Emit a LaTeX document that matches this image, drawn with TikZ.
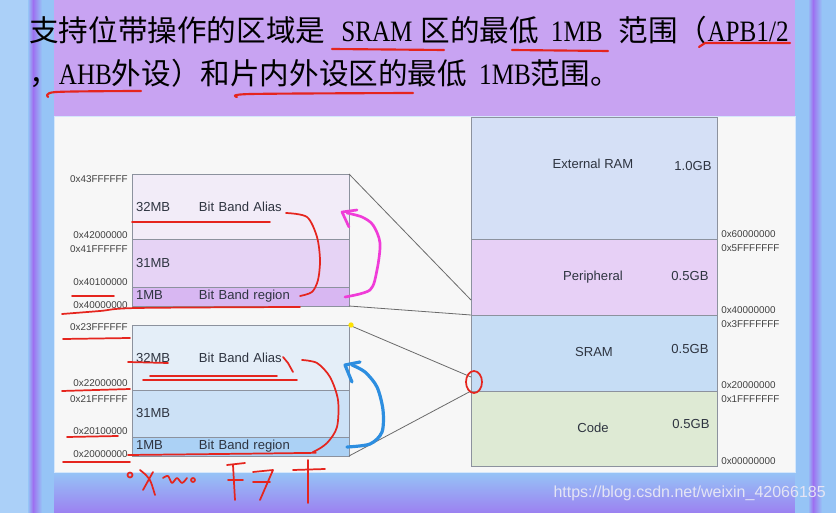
\documentclass[tikz,border=0pt]{standalone}
\usepackage{fontspec}
\setmainfont{Liberation Sans}
\newfontfamily\cjkfont{Noto Sans CJK SC}
\newfontfamily\latfont{Liberation Serif}[FakeStretch=0.85]
\usetikzlibrary{positioning}

\definecolor{bglav}{HTML}{C8A3F2}
\definecolor{bgblue}{HTML}{96C4F6}
\definecolor{bgpurple}{HTML}{9D70F0}
\definecolor{panelbg}{HTML}{F7F7F7}
\definecolor{hiA}{HTML}{F2ECF8}
\definecolor{hiB}{HTML}{E6D3F5}
\definecolor{hiC}{HTML}{D8B7F2}
\definecolor{loA}{HTML}{E4EEF8}
\definecolor{loB}{HTML}{CCE1F6}
\definecolor{loC}{HTML}{ABD1F5}
\definecolor{extC}{HTML}{D5E0F6}
\definecolor{periC}{HTML}{E7D0F6}
\definecolor{sramC}{HTML}{C6DDF5}
\definecolor{codeC}{HTML}{DEEAD4}
\definecolor{boxline}{HTML}{8C929E}
\definecolor{linkgray}{HTML}{6A6A6A}
\definecolor{addrtext}{HTML}{404040}
\definecolor{lbltext}{HTML}{2E3440}
\definecolor{redpen}{HTML}{E5251E}
\definecolor{pinkpen}{HTML}{F03CD8}
\definecolor{bluepen}{HTML}{2D8EE0}
\definecolor{wmark}{HTML}{E4E4F4}
\newcommand{\mbsz}[1]{\makebox[47.25pt][l]{#1}}

\begin{document}
\begin{tikzpicture}[x=0.75pt,y=-0.75pt,
  mem/.style={draw=boxline, line width=0.7pt, inner sep=0pt, outer sep=0pt},
  lft/.style={mem, minimum width=162.75pt, text width=156.75pt, align=left, text=lbltext, font=\fontsize{9.8}{11}\selectfont},
  rgt/.style={mem, minimum width=184.5pt},
  rlbl/.style={text=lbltext, inner sep=0pt, font=\fontsize{9.8}{11}\selectfont},
  addr/.style={text=addrtext, inner sep=0pt, font=\fontsize{7.4}{8}\selectfont},
  zoomln/.style={draw=linkgray, line width=0.6pt},
  hand/.style={line width=1.6pt, line cap=round, line join=round}]
\useasboundingbox (0,0) rectangle (836,513);
% background of the screenshot
\fill[bglav] (0,0) rectangle (836,513);
\shade[top color=bgblue, bottom color=bgpurple!80!bgblue] (0,472) rectangle (836,513);
\fill[bgblue!80!white] (0,0) rectangle (28,513);
\shade[left color=bgblue, right color=bgpurple] (28,0) rectangle (33,513);
\shade[left color=bgpurple, right color=bgblue] (33,0) rectangle (42,513);
\fill[bgblue] (42,0) rectangle (54,513);
\fill[bgblue] (795,0) rectangle (808,513);
\shade[left color=bgblue, right color=bgpurple] (808,0) rectangle (813,513);
\shade[left color=bgpurple, right color=bgblue] (813,0) rectangle (822,513);
\fill[bgblue] (822,0) rectangle (836,513);
\filldraw[fill=panelbg, draw=bgblue!40!white, line width=0.5pt] (54,116) rectangle (795,472);

% title
\node[anchor=west, inner sep=0pt, font=\fontsize{22.2}{24}\cjkfont] (title1) at (29,30)
  {支持位带操作的区域是\hspace{12pt}{\latfont SRAM}\hspace{6pt}区的最低\hspace{9pt}{\latfont 1MB}\hspace{12pt}范围（{\latfont APB1/2}};
\node[anchor=west, inner sep=0pt, font=\fontsize{22.2}{24}\cjkfont] (title2) at (29,73)
  {，{\latfont AHB}外设）和片内外设区的最低\hspace{9pt}{\latfont 1MB}范围。};

% bit band region of the peripherals
\node[lft, fill=hiA, minimum height=48.75pt] (hiAlias) at (240.5,206.5) {\mbsz{32MB}Bit Band Alias};
\node[lft, fill=hiB, minimum height=36pt, below=0pt of hiAlias] (hi31) {\mbsz{31MB}};
\node[lft, fill=hiC, minimum height=14.25pt, below=0pt of hi31] (hi1) {\mbsz{1MB}Bit Band region};
% bit band region of the SRAM
\node[lft, fill=loA, minimum height=48.75pt] (loAlias) at (240.5,357.5) {\mbsz{32MB}Bit Band Alias};
\node[lft, fill=loB, minimum height=35.25pt, below=0pt of loAlias] (lo31) {\mbsz{31MB}};
\node[lft, fill=loC, minimum height=14.25pt, below=0pt of lo31] (lo1) {\mbsz{1MB}Bit Band region};

% 4GB memory map
\node[rgt, fill=extC, minimum height=91.5pt] (ext) at (594,178) {};
\node[rgt, fill=periC, minimum height=57pt, below=0pt of ext] (peri) {};
\node[rgt, fill=sramC, minimum height=57pt, below=0pt of peri] (sram) {};
\node[rgt, fill=codeC, minimum height=56.25pt, below=0pt of sram] (code) {};
\node[rlbl] (extName) at (593,164) {External RAM};
\node[rlbl] (extSize) at (693,166) {1.0GB};
\node[rlbl] (periName) at (593,277) {Peripheral};
\node[rlbl] (periSize) at (690,276) {0.5GB};
\node[rlbl] (sramName) at (594,352) {SRAM};
\node[rlbl] (sramSize) at (690,349) {0.5GB};
\node[rlbl] (codeName) at (593,428) {Code};
\node[rlbl] (codeSize) at (691,424) {0.5GB};

\foreach \yy/\txt [count=\i] in {179/0x43FFFFFF, 235/0x42000000, 249/0x41FFFFFF, 282/0x40100000, 305/0x40000000,
    327/0x23FFFFFF, 383/0x22000000, 399/0x21FFFFFF, 431/0x20100000, 454/0x20000000}
  \node[addr, anchor=east] (addrL\i) at (128,\yy) {\txt};
\foreach \yy/\txt [count=\i] in {234/0x60000000, 248/0x5FFFFFFF, 310/0x40000000, 324/0x3FFFFFFF,
    385/0x20000000, 399/0x1FFFFFFF, 461/0x00000000}
  \node[addr, anchor=west] (addrR\i) at (721,\yy) {\txt};

% zoom lines
\coordinate (periHit) at (471,300);
\coordinate (sramHit) at (471,377);
\draw[zoomln] (hiAlias.north east) -- (periHit);
\draw[zoomln] (hi1.south east) -- (peri.south west);
\draw[zoomln] (loAlias.north east) -- (sramHit);
\draw[zoomln] (lo1.south east) -- (sram.south west);
\fill[yellow!85!orange] ([xshift=1.5pt]loAlias.north east) circle (2pt);

\node[anchor=east, inner sep=0pt, text=wmark, font=\fontsize{12}{14}\selectfont] (wm) at (826,493) {https://blog.csdn.net/weixin\_42066185};

% pen marks
\draw[hand, redpen] (332,49) -- (444,50);
\draw[hand, redpen] (512,50) -- (608,51);
\draw[hand, redpen] (699,47) -- (705,43) -- (790,43);
\draw[hand, redpen] plot[smooth] coordinates {(48,97) (56,92) (141,91)};
\draw[hand, redpen] plot[smooth] coordinates {(237,97) (251,94) (413,93)};
\draw[hand, redpen, line width=1.3pt] (132,222) -- (270,222);
\draw[hand, redpen, line width=1.3pt] plot[smooth] coordinates {(286,213) (307,217) (317,237) (320,260) (318,280) (312,292) (300,296)};
\draw[hand, redpen, line width=1.3pt] (72,296) -- (114,296);
\draw[hand, redpen, line width=1.3pt] plot[smooth] coordinates {(62,314) (100,311) (137,308) (300,307)};
\draw[hand, pinkpen, line width=2pt] plot[smooth] coordinates {(345,297) (370,290) (377,270) (380,243) (373,225) (362,217) (347,213)};
\draw[hand, pinkpen, line width=2pt] (357,210) -- (342,212) -- (349,227);
\draw[hand, redpen, line width=1.3pt] (63,339) -- (130,338);
\draw[hand, redpen, line width=1.3pt] (128,362) -- (168,363);
\draw[hand, redpen, line width=1.3pt] (150,376) -- (277,376);
\draw[hand, redpen, line width=1.3pt] (143,380) -- (297,380);
\draw[hand, redpen, line width=1.3pt] (62,391) -- (130,389);
\draw[hand, redpen, line width=1.3pt] (67,437) -- (118,436);
\draw[hand, redpen, line width=1.3pt] (63,462) -- (130,462);
\draw[hand, redpen, line width=1.3pt] (283,357) -- (288,363) -- (293,372);
\draw[hand, redpen, line width=1.3pt] plot[smooth] coordinates {(302,360) (317,363) (330,377) (338,400) (337,427) (327,443) (313,452) (302,453) (128,455)};
\draw[hand, bluepen, line width=2.4pt] plot[smooth] coordinates {(347,447) (370,444) (382,432) (383,410) (377,387) (365,372) (352,365)};
\draw[hand, bluepen, line width=2.4pt] (360,362) -- (345,365) -- (352,382);
\draw[hand, redpen, line width=1.3pt] (474,382) ellipse (8 and 11);
% scribbled 0x20...
\draw[hand, redpen, line width=1.3pt] (130,475) circle (2.5);
\draw[hand, redpen, line width=1.3pt] (140,470) .. controls (150,478) .. (155,495);
\draw[hand, redpen, line width=1.3pt] (153,472) -- (143,490);
\draw[hand, redpen, line width=1.3pt] plot[smooth] coordinates {(163,478) (168,476) (172,483) (177,478) (182,483) (187,478)};
\draw[hand, redpen, line width=1.3pt] (193,480) circle (2);
\draw[hand, redpen, line width=1.3pt] (227,465) -- (245,463);
\draw[hand, redpen, line width=1.3pt] (233,465) -- (235,500);
\draw[hand, redpen, line width=1.3pt] (228,480) -- (243,480);
\draw[hand, redpen, line width=1.3pt] (253,472) -- (273,470) -- (260,500);
\draw[hand, redpen, line width=1.3pt] (253,482) -- (270,482);
\draw[hand, redpen, line width=1.3pt] (308,460) -- (308,503);
\draw[hand, redpen, line width=1.3pt] (293,470) -- (325,469);
\end{tikzpicture}
\end{document}
